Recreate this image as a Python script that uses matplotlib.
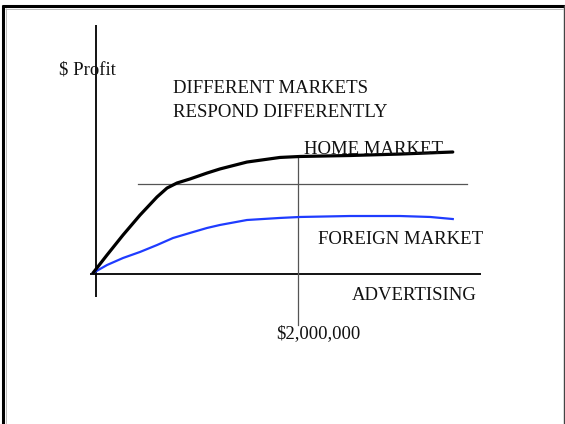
import matplotlib
matplotlib.use("Agg")
import matplotlib.pyplot as plt
from matplotlib.lines import Line2D

# ---- data (advertising in $ millions, profit in arbitrary units) ----
home_x = [0.0, 0.137, 0.293, 0.459, 0.624, 0.722, 0.820, 0.946, 1.112, 1.239,
          1.502, 1.824, 2.02, 2.507, 2.995, 3.51]
home_y = [0.0, 1.49, 3.14, 4.79, 6.28, 7.02, 7.44, 7.77, 8.26, 8.60,
          9.17, 9.55, 9.63, 9.71, 9.83, 10.0]
foreign_x = [0.0, 0.137, 0.293, 0.459, 0.624, 0.780, 0.946, 1.112, 1.239,
             1.502, 1.824, 2.02, 2.507, 2.995, 3.29, 3.51]
foreign_y = [0.0, 0.66, 1.24, 1.74, 2.31, 2.89, 3.31, 3.72, 3.97,
             4.38, 4.55, 4.63, 4.71, 4.71, 4.63, 4.46]
threshold_x = 2.0          # $2,000,000
reference_profit = 7.36
labels = {
    "ylabel": "$ Profit",
    "title1": "DIFFERENT MARKETS",
    "title2": "RESPOND DIFFERENTLY",
    "home": "HOME MARKET",
    "foreign": "FOREIGN MARKET",
    "xlabel": "ADVERTISING",
    "tick": "$2,000,000",
}

W, H = 565, 424
PX_PER_M = 102.5
PX_PER_U = 12.1
OX, OY = 93, 273   # pixel location of origin (from top-left)
FS = 13.5

plt.rcParams["font.family"] = ["Liberation Serif", "DejaVu Serif"]
fig = plt.figure(figsize=(W / 100, H / 100), dpi=100)
ax = fig.add_axes([0, 0, 1, 1])
ax.set_xlim(-OX / PX_PER_M, (W - OX) / PX_PER_M)
ax.set_ylim(-(H - OY) / PX_PER_U, OY / PX_PER_U)
ax.axis("off")

def fx(px):
    return (px - OX) / PX_PER_M

def fy(py):
    return (OY - py) / PX_PER_U

# axes lines
ax.plot([fx(96), fx(96)], [fy(25), fy(297)], color="black", lw=1.3, solid_capstyle="butt")
ax.plot([fx(90), fx(481)], [fy(274), fy(274)], color="black", lw=1.3, solid_capstyle="butt")

# reference lines
ax.plot([fx(138), fx(467)], [reference_profit, reference_profit], color="#555555", lw=0.9)
ax.plot([threshold_x, threshold_x], [fy(158), fy(325)], color="#555555", lw=0.9)

# text
def t(px, py, s):
    fig.text(px / W, 1 - py / H, s, fontsize=FS, ha="left", va="baseline", color="#111111")

t(59, 75, labels["ylabel"])
t(173, 93, labels["title1"])
t(173, 117, labels["title2"])
t(304, 154, labels["home"])
t(318, 244, labels["foreign"])
t(352, 300, labels["xlabel"])
t(276, 338, labels["tick"])

# curves
ax.plot(foreign_x, foreign_y, color="#1f3cff", lw=1.6, solid_joinstyle="round", zorder=5)
ax.plot(home_x, home_y, color="black", lw=2.3, solid_joinstyle="round",
        solid_capstyle="round", zorder=6)

# slide border
def fl(x0, y0, x1, y1, color, lw):
    fig.add_artist(Line2D([x0 / W, x1 / W], [1 - y0 / H, 1 - y1 / H],
                          color=color, lw=lw, solid_capstyle="butt"))

fl(2, 6, 565, 6, "black", 2.2)
fl(3, 5, 3, 424, "black", 2.2)
fl(5, 8.5, 563, 8.5, "#bbbbbb", 0.7)
fl(5.5, 8, 5.5, 424, "#bbbbbb", 0.7)
fl(563.8, 5, 563.8, 424, "#444444", 1.0)

fig.savefig("out.png", dpi=100)
